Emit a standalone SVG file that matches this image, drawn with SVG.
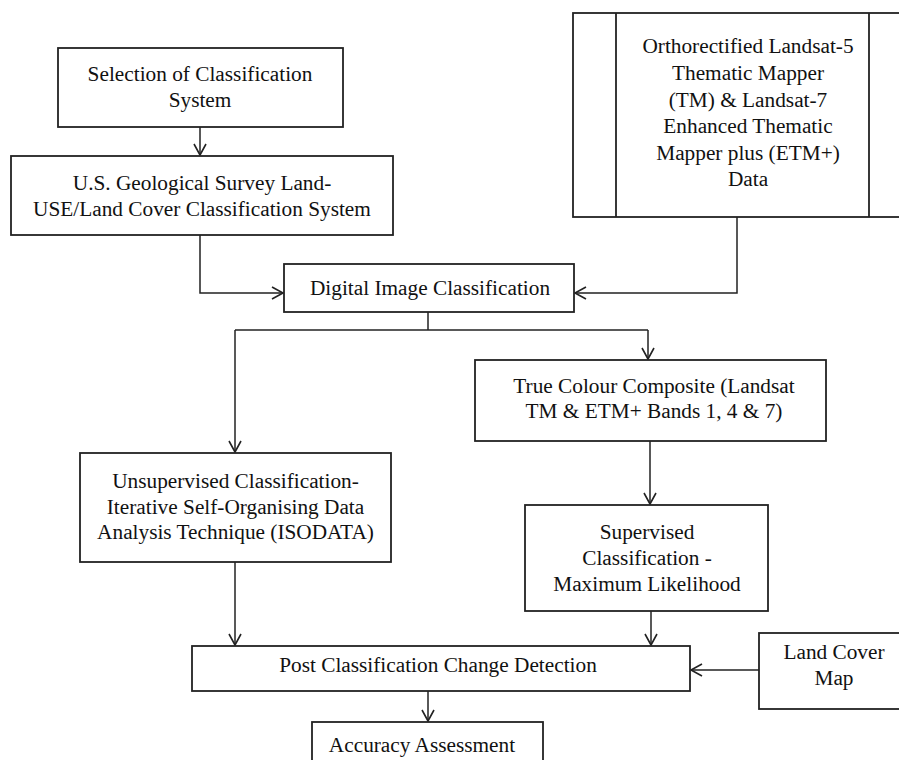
<svg xmlns="http://www.w3.org/2000/svg" width="899" height="760" viewBox="0 0 899 760">
<style>
.box{fill:#fff;stroke:#222;stroke-width:1.8}
text{font-family:'Liberation Serif','Times New Roman',serif;font-size:21.3px;fill:#111;text-anchor:middle}
.c{fill:none;stroke:#222;stroke-width:1.5}
</style>
<defs>
<marker id="ah" markerUnits="userSpaceOnUse" markerWidth="14" markerHeight="16" viewBox="-12 -8 14 16" refX="0" refY="0" orient="auto">
<path d="M-11,-6 L0,0 L-11,6" fill="none" stroke="#222" stroke-width="1.6"/>
</marker>
</defs>
<rect width="899" height="760" fill="#fff"/>
<g id="connectors">
<path class="c" d="M200,127 V155" marker-end="url(#ah)"/>
<path class="c" d="M200,235 V293 H283" marker-end="url(#ah)"/>
<path class="c" d="M737,217 V293 H575" marker-end="url(#ah)"/>
<path class="c" d="M428,312 V330"/>
<path class="c" d="M235,330 H648"/>
<path class="c" d="M235,330 V452" marker-end="url(#ah)"/>
<path class="c" d="M648,330 V359" marker-end="url(#ah)"/>
<path class="c" d="M650,441 V504" marker-end="url(#ah)"/>
<path class="c" d="M235,562 V645" marker-end="url(#ah)"/>
<path class="c" d="M651,611 V645" marker-end="url(#ah)"/>
<path class="c" d="M759,670 H691" marker-end="url(#ah)"/>
<path class="c" d="M428,691 V721" marker-end="url(#ah)"/>
</g>
<g id="selection">
<rect class="box" x="58" y="48" width="285" height="79"/>
<text x="200" y="81">Selection of Classification</text>
<text x="200" y="107">System</text>
</g>
<g id="usgs">
<rect class="box" x="11" y="156" width="382" height="79"/>
<text x="202" y="190">U.S. Geological Survey Land-</text>
<text x="202" y="216">USE/Land Cover Classification System</text>
</g>
<g id="landsat">
<rect class="box" x="573" y="13" width="335" height="204"/>
<line class="box" x1="616" y1="13" x2="616" y2="217"/>
<line class="box" x1="869" y1="13" x2="869" y2="217"/>
<text x="748" y="53">Orthorectified Landsat-5</text>
<text x="748" y="80">Thematic Mapper</text>
<text x="748" y="107">(TM) &amp; Landsat-7</text>
<text x="748" y="133">Enhanced Thematic</text>
<text x="748" y="160">Mapper plus (ETM+)</text>
<text x="748" y="186">Data</text>
</g>
<g id="digital">
<rect class="box" x="284" y="264" width="290" height="48"/>
<text x="430" y="295">Digital Image Classification</text>
</g>
<g id="unsupervised">
<rect class="box" x="80" y="453" width="311" height="109"/>
<text x="235.5" y="488">Unsupervised Classification-</text>
<text x="235.5" y="513.5">Iterative Self-Organising Data</text>
<text x="235.5" y="539">Analysis Technique (ISODATA)</text>
</g>
<g id="truecolour">
<rect class="box" x="475" y="360" width="351" height="81"/>
<text x="654" y="393">True Colour Composite (Landsat</text>
<text x="654" y="418">TM &amp; ETM+ Bands 1, 4 &amp; 7)</text>
</g>
<g id="supervised">
<rect class="box" x="525" y="505" width="243" height="106"/>
<text x="647" y="539">Supervised</text>
<text x="647" y="565">Classification -</text>
<text x="647" y="591">Maximum Likelihood</text>
</g>
<g id="post">
<rect class="box" x="192" y="646" width="498" height="45"/>
<text x="438" y="672">Post Classification Change Detection</text>
</g>
<g id="landcover">
<rect class="box" x="759" y="633" width="150" height="76"/>
<text x="834" y="659">Land Cover</text>
<text x="834" y="685">Map</text>
</g>
<g id="accuracy">
<rect class="box" x="312" y="722" width="231" height="50"/>
<text x="422" y="752">Accuracy Assessment</text>
</g>
</svg>
